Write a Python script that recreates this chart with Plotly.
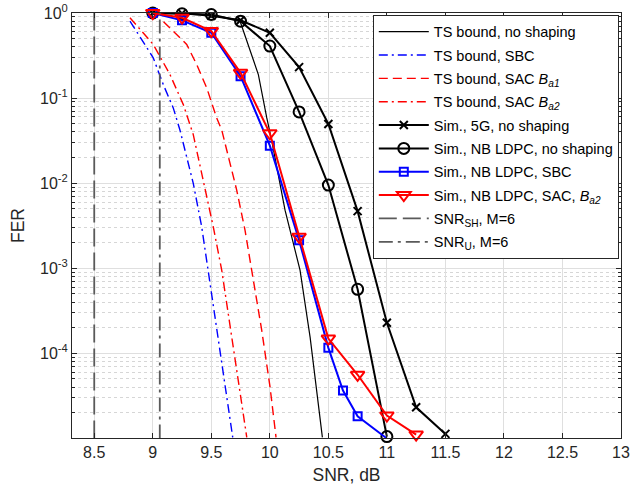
import plotly.graph_objects as go

# simulated points (SNR in dB, FER)
snr_5g = [9.0, 9.25, 9.5, 9.75, 10.0, 10.25, 10.5, 10.75, 11.0, 11.25, 11.5]
fer_5g = [1.0, 0.99, 0.93, 0.82, 0.586, 0.231, 0.0497, 0.00469, 2.29e-4, 2.32e-5, 1.13e-5]

snr_nb = [9.0, 9.25, 9.5, 9.75, 10.0, 10.25, 10.5, 10.75, 11.0]
fer_nb = [1.0, 0.98, 0.96, 0.80, 0.409, 0.0688, 0.0095, 5.66e-4, 1.05e-5]

snr_sbc = [9.0, 9.25, 9.5, 9.75, 10.0, 10.25, 10.5, 10.625, 10.75, 11.0]
fer_sbc = [1.0, 0.82, 0.586, 0.181, 0.0276, 0.00214, 1.16e-4, 3.66e-5, 1.82e-5, 1.0e-5]

snr_sac = [9.0, 9.25, 9.5, 9.75, 10.0, 10.25, 10.5, 10.75, 11.0, 11.25]
fer_sac = [1.0, 0.88, 0.614, 0.198, 0.0386, 0.00234, 1.49e-4, 5.6e-5, 1.86e-5, 1.11e-5]

# TS bounds
snr_ts = [9.745, 9.902, 9.974, 10.015, 10.130, 10.258, 10.344, 10.401, 10.449]
fer_ts = [0.805, 0.189, 0.0585, 0.0322, 0.00482, 9.5e-4, 1.55e-4, 3.66e-5, 1.03e-5]

snr_ts_sbc = [8.805, 9.004, 9.090, 9.175, 9.232, 9.346, 9.418, 9.474, 9.560, 9.632, 9.683]
fer_ts_sbc = [0.805, 0.2976, 0.144, 0.0767, 0.0422, 0.00995, 0.00307, 9.47e-4, 1.55e-4, 3.05e-5, 1.03e-5]

snr_ts_a1 = [9.092, 9.290, 9.375, 9.461, 9.546, 9.589, 9.717, 9.788, 9.845, 9.931, 10.002, 10.053]
fer_ts_a1 = [0.79, 0.427, 0.248, 0.132, 0.0585, 0.0422, 0.0083, 0.0028, 9.5e-4, 1.86e-4, 4.0e-5, 1.03e-5]

snr_ts_a2 = [8.805, 9.004, 9.147, 9.261, 9.346, 9.432, 9.517, 9.589, 9.674, 9.745, 9.803]
fer_ts_a2 = [0.88, 0.427, 0.189, 0.0838, 0.0372, 0.0109, 0.00306, 9.5e-4, 1.55e-4, 3.66e-5, 1.03e-5]

snr_sh = 8.5
snr_u = 9.06
fer_span = [1e-5, 1.0]

GRAY = "#5a5a5a"
AX = "#262626"

fig = go.Figure()

# theoretical bounds
fig.add_trace(go.Scatter(x=snr_ts, y=fer_ts, mode="lines", name="TS bound, no shaping",
                         line=dict(color="black", width=1.2)))
fig.add_trace(go.Scatter(x=snr_ts_sbc, y=fer_ts_sbc, mode="lines", name="TS bound, SBC",
                         line=dict(color="#0000ff", width=1.4, dash="9px,4px,2px,4px")))
fig.add_trace(go.Scatter(x=snr_ts_a1, y=fer_ts_a1, mode="lines",
                         name="TS bound, SAC <i>B</i><sub><i>a1</i></sub>",
                         line=dict(color="#ff0000", width=1.4, dash="9px,5px")))
fig.add_trace(go.Scatter(x=snr_ts_a2, y=fer_ts_a2, mode="lines",
                         name="TS bound, SAC <i>B</i><sub><i>a2</i></sub>",
                         line=dict(color="#ff0000", width=1.4, dash="9px,4px,2px,4px")))

# simulations
fig.add_trace(go.Scatter(x=snr_5g, y=fer_5g, mode="lines+markers", name="Sim., 5G, no shaping",
                         line=dict(color="black", width=2), cliponaxis=False,
                         marker=dict(symbol="x-thin-open", size=8, color="black",
                                     line=dict(width=2, color="black"))))
fig.add_trace(go.Scatter(x=snr_nb, y=fer_nb, mode="lines+markers", name="Sim., NB LDPC, no shaping",
                         line=dict(color="black", width=2), cliponaxis=False,
                         marker=dict(symbol="circle-open", size=11, color="black",
                                     line=dict(width=2))))
fig.add_trace(go.Scatter(x=snr_sbc, y=fer_sbc, mode="lines+markers", name="Sim., NB LDPC, SBC",
                         line=dict(color="#0000ff", width=2), cliponaxis=False,
                         marker=dict(symbol="square-open", size=8, color="#0000ff",
                                     line=dict(width=2))))
fig.add_trace(go.Scatter(x=snr_sac, y=fer_sac, mode="lines+markers",
                         name="Sim., NB LDPC, SAC, <i>B</i><sub><i>a2</i></sub>",
                         line=dict(color="#ff0000", width=2), cliponaxis=False,
                         marker=dict(symbol="triangle-down-open", size=12, color="#ff0000",
                                     line=dict(width=2))))

# threshold lines
fig.add_trace(go.Scatter(x=[snr_sh, snr_sh], y=fer_span, mode="lines",
                         name="SNR<sub>SH</sub>, M=6",
                         line=dict(color=GRAY, width=1.8, dash="18px,6px")))
fig.add_trace(go.Scatter(x=[snr_u, snr_u], y=fer_span, mode="lines",
                         name="SNR<sub>U</sub>, M=6",
                         line=dict(color=GRAY, width=1.8, dash="14px,5px,3px,5px")))

# one group per entry so tracegroupgap spreads the rows a little
for i, tr in enumerate(fig.data):
    tr.legendgroup = f"g{i}"

fig.update_layout(
    width=630, height=496,
    margin=dict(l=72, r=9, t=13, b=58),
    paper_bgcolor="white", plot_bgcolor="white",
    font=dict(family="Liberation Sans, Arial, sans-serif", size=16, color=AX),
    showlegend=True,
    legend=dict(x=0.996, xanchor="right", y=0.996, yanchor="top",
                bgcolor="white", bordercolor=AX, borderwidth=1, tracegroupgap=1.5,
                font=dict(size=14.5, color="black"), itemwidth=50),
)

fig.update_xaxes(
    title=dict(text="SNR, dB", font=dict(size=17.5), standoff=8),
    range=[8.31, 13], dtick=0.5, tick0=8.5, automargin=False,
    showline=True, linecolor=AX, linewidth=1, mirror="ticks",
    ticks="inside", ticklen=5, tickcolor=AX,
    showgrid=True, gridcolor="#dfdfdf", gridwidth=1, zeroline=False,
)

fig.update_yaxes(
    title=dict(text="FER", font=dict(size=17.5), standoff=10),
    type="log", range=[-4.995, 0], automargin=False,
    tickvals=[1, 0.1, 0.01, 0.001, 0.0001],
    ticktext=["10<sup>0</sup>", "10<sup>-1</sup>", "10<sup>-2</sup>", "10<sup>-3</sup>", "10<sup>-4</sup>"],
    showline=True, linecolor=AX, linewidth=1, mirror="ticks",
    ticks="inside", ticklen=5, tickcolor=AX,
    showgrid=True, gridcolor="#dfdfdf", gridwidth=1, zeroline=False,
    minor=dict(dtick="D1", showgrid=True, griddash="dot", gridcolor="#d6d6d6",
               ticks="inside", ticklen=3, tickcolor=AX),
)

# drop the default page margin so the figure sits at the window corner
fig.write_html("out.html", config={"displayModeBar": False},
               post_script="document.body.style.margin='0';")
